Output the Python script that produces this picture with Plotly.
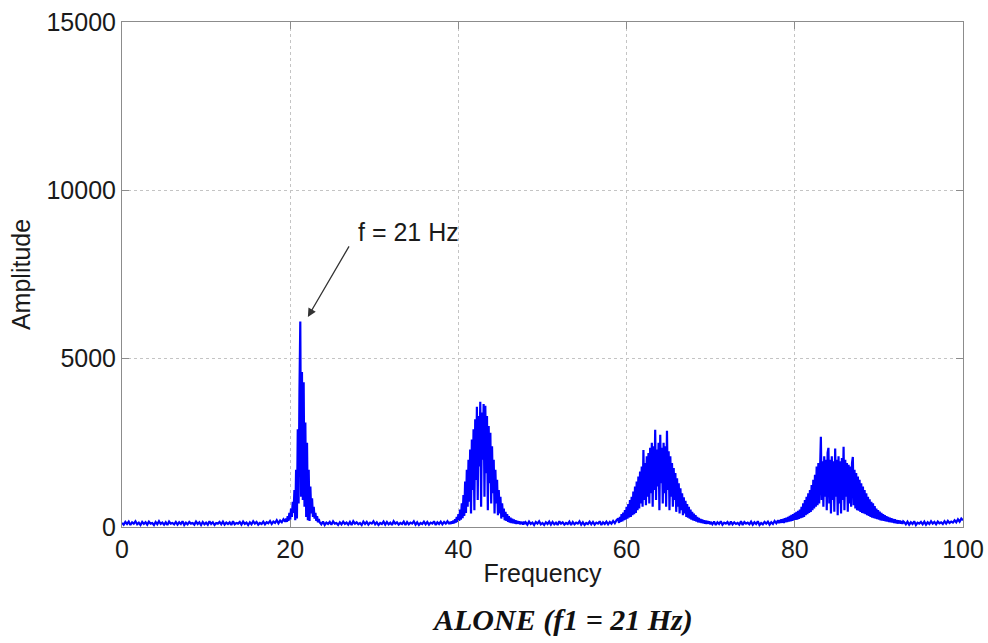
import numpy as np
import plotly.graph_objects as go

# ---- data: FFT amplitude spectrum ----
# each segment: (start frequency, step, amplitudes)
base_0_19 = [120, 70, 150, 90, 160, 60, 140, 100, 170, 80, 130, 60, 150, 90, 140, 70, 160, 100, 120, 60,
             150, 80, 170, 90, 130, 70, 140, 60, 160, 100, 120, 80, 150, 70, 140, 90, 170, 60, 130, 80,
             150, 100, 120, 70, 160, 90, 140, 60, 150, 80, 130, 70, 170, 90, 140, 60, 120, 100, 150, 80,
             160, 70, 130, 90, 140, 60, 170, 80, 120, 100, 150, 70, 160, 90, 130, 60, 140, 80, 170, 100,
             150, 70, 120, 90, 160, 80, 140, 110, 180, 90, 160, 120, 200, 110, 190, 140, 230, 160]
peak_21 = [250, 150, 320, 180, 420, 220, 550, 300, 750, 420,
           1100, 200, 1700, 250, 2900, 700, 4000, 6100, 900, 4600,
           800, 4300, 600, 3100, 300, 2500, 200, 1700, 180, 1200,
           400, 850, 300, 600, 250, 420, 180, 320, 140, 240]
base_23_39 = [140, 80, 160, 60, 130, 90, 150, 70, 170, 100, 120, 60, 140, 80, 160, 90, 130, 70, 150, 60,
              170, 100, 140, 80, 120, 60, 160, 90, 150, 70, 130, 100, 170, 80, 140, 60, 120, 90, 160, 70,
              150, 80, 130, 60, 170, 100, 140, 70, 120, 90, 160, 60, 150, 80, 130, 100, 170, 70, 140, 60,
              120, 90, 160, 80, 150, 70, 130, 100, 170, 60, 140, 90, 160, 80, 150, 100, 170, 90]
peak_43 = [150, 90, 170, 100, 190, 110, 230, 130, 300, 150,
           380, 180, 520, 220, 700, 260, 950, 330, 1350, 420,
           1700, 600, 2000, 750, 2300, 400, 2600, 1100, 2900, 500,
           3200, 1400, 3570, 800, 3300, 1800, 3720, 600, 3400, 2000,
           3650, 900, 3600, 1600, 3300, 500, 3000, 1300, 2800, 700,
           2400, 1000, 2000, 400, 1700, 700, 1400, 350, 1100, 400,
           900, 250, 700, 300, 550, 200, 450, 180, 380, 150,
           320, 130, 280, 120, 250, 110, 220, 100, 200, 90,
           180, 100, 170, 80, 160, 90, 150, 70, 160, 90]
base_48_59 = [140, 70, 160, 90, 130, 60, 150, 100, 170, 80, 120, 60, 140, 90, 160, 70, 150, 80, 130, 60,
              170, 100, 140, 70, 120, 90, 160, 60, 150, 80, 130, 100, 170, 70, 140, 60, 120, 90, 160, 80,
              150, 70, 130, 100, 170, 60, 140, 90, 160, 80, 150, 100, 180, 110, 200]
peak_64 = [250, 120, 300, 150, 380, 170, 430, 200, 500, 220,
           600, 250, 680, 280, 800, 300, 900, 350, 1050, 380,
           1200, 420, 1350, 500, 1500, 550, 1650, 700, 1800, 600,
           2290, 800, 1900, 650, 2100, 900, 2200, 700, 2350, 1000,
           2500, 600, 2400, 1100, 2890, 800, 2300, 1200, 2500, 500,
           2740, 1300, 2350, 700, 2500, 1000, 2400, 600, 2860, 1100,
           2250, 500, 2100, 900, 1900, 600, 1750, 800, 1600, 450,
           1450, 600, 1300, 400, 1150, 500, 1000, 350, 880, 400,
           780, 300, 680, 280, 600, 250, 520, 220, 450, 200,
           400, 180, 350, 160, 300, 140, 270, 130, 240, 120,
           220, 110, 200, 100, 190, 90, 180, 100, 170, 80]
base_70_78 = [150, 80, 160, 60, 140, 90, 170, 70, 130, 100, 150, 60, 160, 80, 140, 90, 120, 70, 170, 60,
              150, 100, 130, 80, 160, 70, 140, 90, 170, 60, 120, 80, 150, 100, 160, 70, 140, 90, 180, 110]
peak_85 = [200, 110, 210, 120, 230, 130, 240, 120, 260, 140,
           280, 150, 300, 160, 330, 170, 360, 180, 380, 200,
           420, 210, 450, 220, 480, 240, 520, 260, 600, 280,
           700, 300, 800, 350, 900, 380, 1000, 420, 1100, 450,
           1250, 500, 1400, 550, 1550, 600, 1800, 650, 1900, 700,
           2000, 2680, 800, 1950, 600, 2100, 900, 2000, 500, 2200,
           2350, 700, 2000, 400, 2100, 800, 1950, 450, 2330, 900,
           2000, 350, 2100, 700, 1950, 400, 2050, 800, 2380, 500,
           2000, 900, 1900, 450, 1850, 700, 1800, 600, 1900, 2080,
           650, 1700, 550, 1600, 500, 1500, 480, 1400, 450, 1300,
           420, 1200, 400, 1100, 380, 1000, 350, 900, 330, 820,
           300, 750, 280, 700, 260, 620, 250, 550, 230, 500,
           220, 460, 200, 420, 190, 380, 180, 350, 170, 320,
           160, 300, 150, 280, 140, 260, 130, 240, 120, 230,
           110, 210, 100, 200, 110, 190, 100, 180, 90, 170]
base_93_100 = [150, 80, 160, 70, 140, 90, 170, 60, 130, 100, 150, 80, 160, 70, 140, 90, 170, 100, 150, 80,
               160, 110, 140, 90, 170, 100, 180, 120, 160, 130, 200, 140, 230, 160, 250, 200]

segments = [
    (0.0, 0.2, base_0_19),
    (19.5, 0.1, peak_21),
    (23.5, 0.2, base_23_39),
    (39.0, 0.1, peak_43),
    (48.0, 0.2, base_48_59),
    (59.0, 0.1, peak_64),
    (70.0, 0.2, base_70_78),
    (78.0, 0.1, peak_85),
    (93.0, 0.2, base_93_100),
]

x_ticks = [0, 20, 40, 60, 80, 100]
y_ticks = [0, 5000, 10000, 15000]

freq = np.concatenate([s + st * np.arange(len(v)) for s, st, v in segments])
amp = np.concatenate([np.array(v, dtype=float) for _, _, v in segments])

FONT = "Liberation Sans, Arial, sans-serif"
AXC = "#8c8c8c"
TXT = "#1a1a1a"
FS = 25

fig = go.Figure()
fig.add_trace(go.Scatter(x=freq, y=amp, mode="lines",
                         line=dict(color="#0000FF", width=2.2),
                         hoverinfo="skip", showlegend=False))

common = dict(showline=True, linecolor=AXC, linewidth=1, mirror="ticks",
              ticks="inside", ticklen=7, tickcolor=AXC, automargin=False,
              ticklabeloverflow="allow",
              showgrid=True, gridcolor="#c4c4c4", griddash="dot", gridwidth=1,
              zeroline=False, tickfont=dict(family=FONT, size=FS, color=TXT))

fig.update_xaxes(range=[0, 100], tickvals=x_ticks, ticktext=[str(t) for t in x_ticks],
                 title=dict(text="Frequency", font=dict(family=FONT, size=FS, color=TXT), standoff=2),
                 **common)
fig.update_yaxes(range=[0, 15000], tickvals=y_ticks, ticktext=[str(t) for t in y_ticks],
                 title=dict(text="Amplitude", font=dict(family=FONT, size=FS, color=TXT), standoff=8),
                 **common)

# annotation text and arrow
fig.add_annotation(x=34.1, y=8760, xref="x", yref="y", text="f = 21 Hz", showarrow=False,
                   font=dict(family=FONT, size=FS, color=TXT))
fig.add_annotation(x=22.1, y=6240, ax=27.1, ay=8380, xref="x", yref="y", axref="x", ayref="y",
                   text="", showarrow=True, arrowhead=2, arrowsize=1.3, arrowwidth=1.3,
                   arrowcolor="#333333", standoff=0)

# caption
fig.add_annotation(x=0.524, y=-0.184, xref="paper", yref="paper", xanchor="center", yanchor="middle",
                   text="<b><i>ALONE (f1 = 21 Hz)</i></b>", showarrow=False,
                   font=dict(family="Liberation Serif, Times New Roman, serif", size=30, color="#111111"))

fig.update_layout(width=988, height=643, margin=dict(l=122, r=25, t=22, b=116),
                  paper_bgcolor="white", plot_bgcolor="white", hovermode=False)

# remove the page's default body margin so the figure fills the window exactly
fig.write_html("out.html", config={"displayModeBar": False},
               post_script="document.body.style.margin='0';")
